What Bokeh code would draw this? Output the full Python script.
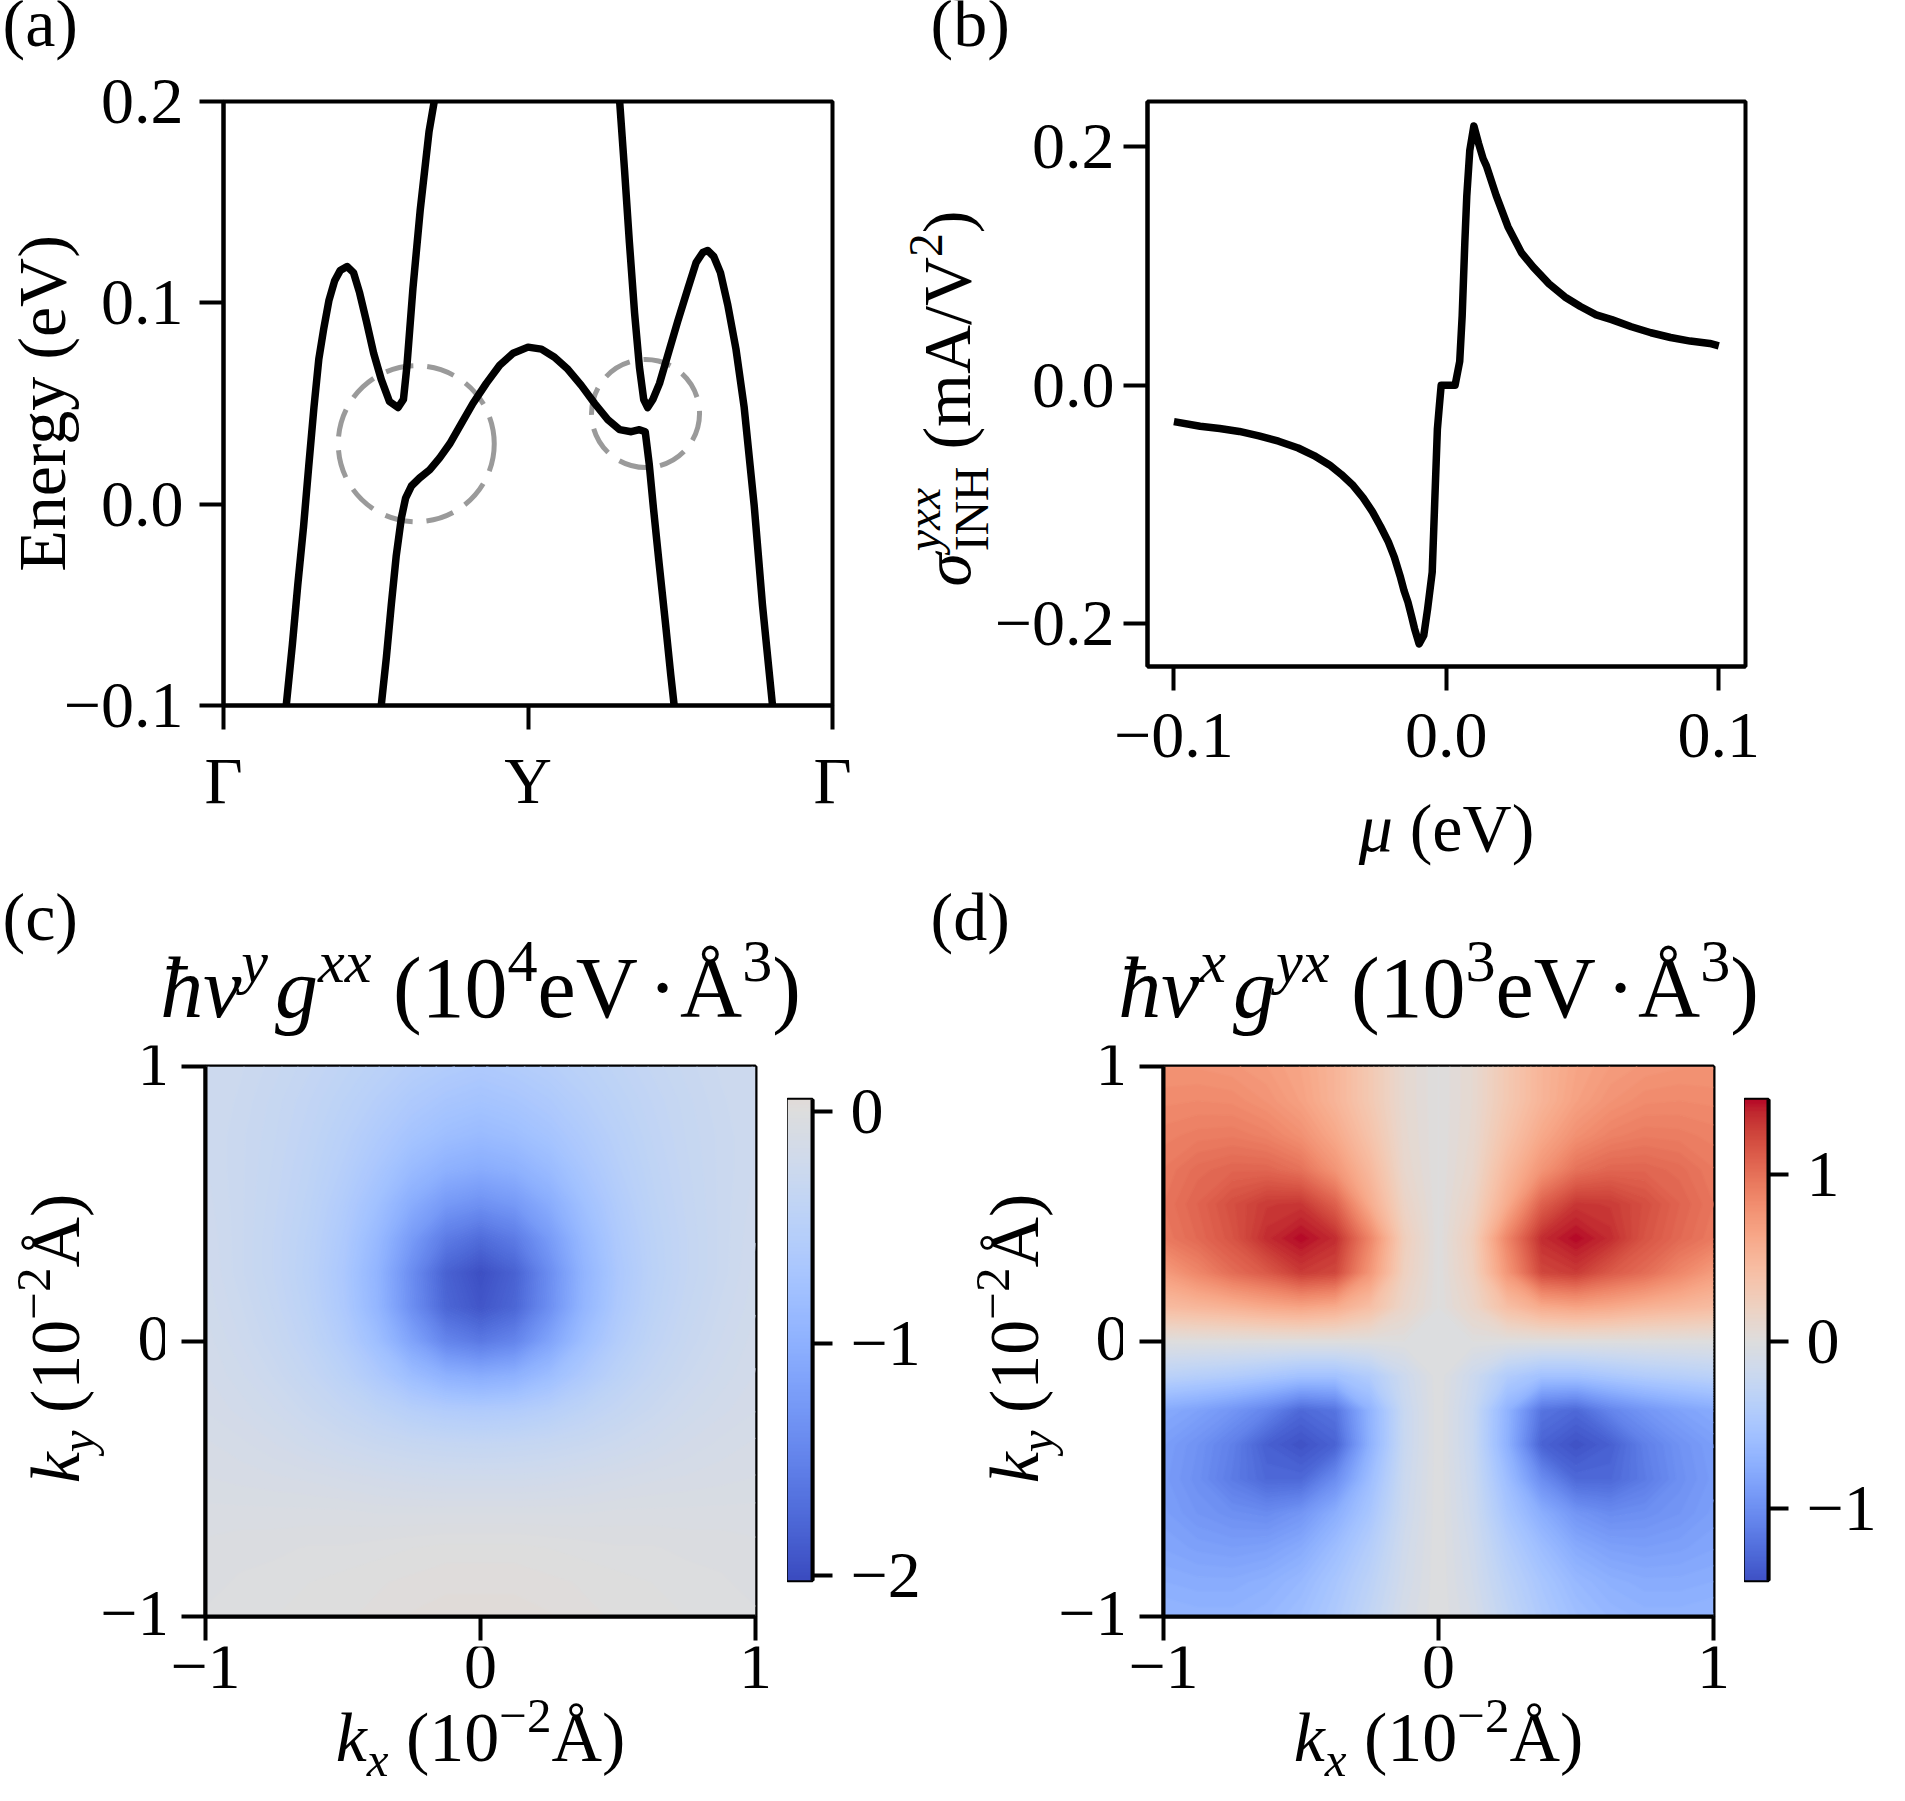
import math
import numpy as np
from bokeh.plotting import figure
from bokeh.layouts import column, row
from bokeh.models import Range1d, FixedTicker, Label, LinearColorMapper
from bokeh.embed import file_html
from bokeh.resources import INLINE

# ============================ DATA ============================
# (a) band structure along Gamma - Y - Gamma (path coordinate, energy in eV)
PATH_TICKS = [0, 1, 2]
PATH_LABELS = ["Γ", "Y", "Γ"]
E_TICKS_A = [-0.1, 0.0, 0.1, 0.2]
E_LABELS_A = ["−0.1", "0.0", "0.1", "0.2"]

BAND1_K = [0.199, 0.206, 0.226, 0.244, 0.263, 0.280, 0.297, 0.313, 0.329, 0.346, 0.365, 0.383,
           0.406, 0.427, 0.447, 0.469, 0.493, 0.518, 0.545, 0.573, 0.591, 0.602, 0.622, 0.646,
           0.675, 0.692, 0.703]
BAND1_E = [-0.110, -0.100, -0.070, -0.040, -0.011, 0.019, 0.048, 0.072, 0.087, 0.101, 0.111, 0.116,
           0.118, 0.115, 0.105, 0.091, 0.075, 0.062, 0.051, 0.048, 0.052, 0.068, 0.107, 0.146,
           0.185, 0.200, 0.215]

BAND2_K = [0.512, 0.518, 0.535, 0.551, 0.567, 0.584, 0.598, 0.617, 0.644, 0.677, 0.710, 0.743,
           0.781, 0.819, 0.863, 0.907, 0.951, 1.000, 1.044, 1.087, 1.131, 1.175, 1.219, 1.262,
           1.301, 1.339, 1.366, 1.385, 1.398, 1.412, 1.431, 1.452, 1.469, 1.480, 1.487]
BAND2_E = [-0.110, -0.100, -0.076, -0.050, -0.026, -0.007, 0.003, 0.009, 0.013, 0.017, 0.023, 0.030,
           0.040, 0.050, 0.060, 0.069, 0.075, 0.078, 0.077, 0.073, 0.067, 0.059, 0.050, 0.042,
           0.037, 0.036, 0.037, 0.036, 0.020, -0.002, -0.030, -0.060, -0.085, -0.100, -0.110]

BAND3_K = [1.295, 1.301, 1.317, 1.333, 1.350, 1.366, 1.380, 1.393, 1.410, 1.432, 1.459, 1.492,
           1.525, 1.552, 1.574, 1.590, 1.610, 1.632, 1.656, 1.683, 1.710, 1.743, 1.770, 1.803, 1.810]
BAND3_E = [0.215, 0.200, 0.166, 0.130, 0.095, 0.068, 0.052, 0.048, 0.052, 0.060, 0.074, 0.091,
           0.107, 0.120, 0.125, 0.126, 0.123, 0.115, 0.099, 0.077, 0.048, -0.001, -0.050, -0.100, -0.110]

HIGHLIGHT_K = [0.633, 1.386]
HIGHLIGHT_E = [0.030, 0.045]

# (b) sigma_INH^yxx (mA/V^2) versus mu (eV)
MU = [-0.1000, -0.0904, -0.0832, -0.0760, -0.0688, -0.0616, -0.0544, -0.0486, -0.0429, -0.0386,
      -0.0342, -0.0306, -0.0271, -0.0242, -0.0213, -0.0191, -0.0170, -0.0155, -0.0141, -0.0127,
      -0.0117, -0.0100, -0.0083, -0.0069, -0.0052, -0.0043, -0.0033, -0.0026, -0.0019, 0.0032,
      0.0049, 0.0058, 0.0068, 0.0075, 0.0086, 0.0101, 0.0118, 0.0135, 0.0147, 0.0183, 0.0226,
      0.0276, 0.0319, 0.0377, 0.0435, 0.0492, 0.0550, 0.0607, 0.0679, 0.0751, 0.0823, 0.0895,
      0.0967, 0.1000]
SIGMA = [-0.0306, -0.0344, -0.0363, -0.0388, -0.0426, -0.0470, -0.0527, -0.0590, -0.0669, -0.0748,
         -0.0842, -0.0943, -0.1063, -0.1183, -0.1315, -0.1442, -0.1599, -0.1726, -0.1820, -0.1946,
         -0.2041, -0.2170, -0.2100, -0.1880, -0.1570, -0.1000, -0.0370, -0.0180, 0.0000, 0.0000,
         0.0200, 0.0580, 0.1210, 0.1590, 0.1970, 0.2175, 0.2030, 0.1900, 0.1840, 0.1590, 0.1330,
         0.1110, 0.0990, 0.0850, 0.0740, 0.0660, 0.0590, 0.0550, 0.0490, 0.0440, 0.0400, 0.0370,
         0.0350, 0.0330]
MU_TICKS = [-0.1, 0.0, 0.1]
MU_LABELS = ["−0.1", "0.0", "0.1"]
SIGMA_TICKS = [-0.2, 0.0, 0.2]
SIGMA_LABELS = ["−0.2", "0.0", "0.2"]

# (c), (d) maps on a k grid (units 1e-2 1/Å); rows go from ky=-1 (first) to ky=+1 (last)
K_GRID = [-1.0, -0.875, -0.75, -0.625, -0.5, -0.375, -0.25, -0.125, 0.0,
          0.125, 0.25, 0.375, 0.5, 0.625, 0.75, 0.875, 1.0]
K_TICKS = [-1, 0, 1]
K_LABELS = ["−1", "0", "1"]

VG_XX = [  # hbar v^y g^xx, 1e4 eV·Å^3
    [-0.03, -0.02, -0.01, 0.00, 0.01, 0.02, 0.04, 0.05, 0.05, 0.05, 0.04, 0.02, 0.01, 0.00, -0.01, -0.02, -0.03],
    [-0.04, -0.03, -0.02, -0.01, 0.00, 0.01, 0.02, 0.03, 0.03, 0.03, 0.02, 0.01, 0.00, -0.01, -0.02, -0.03, -0.04],
    [-0.05, -0.04, -0.04, -0.03, -0.03, -0.02, -0.01, 0.00, 0.00, 0.00, -0.01, -0.02, -0.03, -0.03, -0.04, -0.04, -0.05],
    [-0.07, -0.07, -0.07, -0.07, -0.07, -0.08, -0.08, -0.08, -0.08, -0.08, -0.08, -0.08, -0.07, -0.07, -0.07, -0.07, -0.07],
    [-0.10, -0.11, -0.12, -0.13, -0.15, -0.17, -0.19, -0.20, -0.20, -0.20, -0.19, -0.17, -0.15, -0.13, -0.12, -0.11, -0.10],
    [-0.12, -0.14, -0.17, -0.21, -0.25, -0.29, -0.32, -0.34, -0.35, -0.34, -0.32, -0.29, -0.25, -0.21, -0.17, -0.14, -0.12],
    [-0.15, -0.18, -0.22, -0.28, -0.35, -0.43, -0.52, -0.58, -0.60, -0.58, -0.52, -0.43, -0.35, -0.28, -0.22, -0.18, -0.15],
    [-0.17, -0.21, -0.27, -0.35, -0.46, -0.62, -0.82, -0.99, -1.05, -0.99, -0.82, -0.62, -0.46, -0.35, -0.27, -0.21, -0.17],
    [-0.18, -0.24, -0.31, -0.41, -0.56, -0.80, -1.15, -1.48, -1.60, -1.48, -1.15, -0.80, -0.56, -0.41, -0.31, -0.24, -0.18],
    [-0.20, -0.26, -0.34, -0.45, -0.63, -0.93, -1.38, -1.78, -1.93, -1.78, -1.38, -0.93, -0.63, -0.45, -0.34, -0.26, -0.20],
    [-0.21, -0.28, -0.36, -0.47, -0.65, -0.95, -1.40, -1.82, -1.99, -1.82, -1.40, -0.95, -0.65, -0.47, -0.36, -0.28, -0.21],
    [-0.22, -0.28, -0.36, -0.46, -0.62, -0.88, -1.25, -1.58, -1.72, -1.58, -1.25, -0.88, -0.62, -0.46, -0.36, -0.28, -0.22],
    [-0.23, -0.28, -0.35, -0.44, -0.58, -0.78, -1.05, -1.27, -1.36, -1.27, -1.05, -0.78, -0.58, -0.44, -0.35, -0.28, -0.23],
    [-0.24, -0.28, -0.34, -0.42, -0.53, -0.68, -0.86, -1.00, -1.06, -1.00, -0.86, -0.68, -0.53, -0.42, -0.34, -0.28, -0.24],
    [-0.24, -0.28, -0.33, -0.40, -0.49, -0.60, -0.72, -0.81, -0.86, -0.81, -0.72, -0.60, -0.49, -0.40, -0.33, -0.28, -0.24],
    [-0.24, -0.27, -0.32, -0.38, -0.45, -0.53, -0.62, -0.69, -0.73, -0.69, -0.62, -0.53, -0.45, -0.38, -0.32, -0.27, -0.24],
    [-0.24, -0.26, -0.30, -0.35, -0.41, -0.47, -0.53, -0.58, -0.62, -0.58, -0.53, -0.47, -0.41, -0.35, -0.30, -0.26, -0.24],
]

VG_YX = [  # hbar v^x g^yx, 1e3 eV·Å^3
    [-0.68, -0.70, -0.70, -0.66, -0.58, -0.45, -0.28, -0.10, 0.00, -0.10, -0.28, -0.45, -0.58, -0.66, -0.70, -0.70, -0.68],
    [-0.75, -0.77, -0.77, -0.73, -0.65, -0.50, -0.33, -0.13, 0.00, -0.13, -0.33, -0.50, -0.65, -0.73, -0.77, -0.77, -0.75],
    [-0.82, -0.86, -0.88, -0.86, -0.78, -0.60, -0.40, -0.15, 0.00, -0.15, -0.40, -0.60, -0.78, -0.86, -0.88, -0.86, -0.82],
    [-0.87, -0.95, -1.00, -1.03, -0.95, -0.75, -0.50, -0.18, 0.00, -0.18, -0.50, -0.75, -0.95, -1.03, -1.00, -0.95, -0.87],
    [-0.90, -1.00, -1.15, -1.28, -1.28, -1.02, -0.60, -0.20, 0.00, -0.20, -0.60, -1.02, -1.28, -1.28, -1.15, -1.00, -0.90],
    [-0.88, -0.98, -1.12, -1.34, -1.43, -1.32, -0.72, -0.22, 0.00, -0.22, -0.72, -1.32, -1.43, -1.34, -1.12, -0.98, -0.88],
    [-0.78, -0.85, -0.95, -1.08, -1.28, -1.20, -0.70, -0.22, 0.00, -0.22, -0.70, -1.20, -1.28, -1.08, -0.95, -0.85, -0.78],
    [-0.34, -0.38, -0.42, -0.48, -0.55, -0.55, -0.42, -0.18, 0.00, -0.18, -0.42, -0.55, -0.55, -0.48, -0.42, -0.38, -0.34],
    [0.00, 0.00, 0.00, 0.00, 0.00, 0.00, 0.00, 0.00, 0.00, 0.00, 0.00, 0.00, 0.00, 0.00, 0.00, 0.00, 0.00],
    [0.45, 0.50, 0.55, 0.62, 0.66, 0.60, 0.42, 0.15, 0.00, 0.15, 0.42, 0.60, 0.66, 0.62, 0.55, 0.50, 0.45],
    [0.72, 0.87, 1.03, 1.14, 1.30, 1.24, 0.76, 0.22, 0.00, 0.22, 0.76, 1.24, 1.30, 1.14, 1.03, 0.87, 0.72],
    [0.95, 1.05, 1.17, 1.36, 1.46, 1.36, 0.88, 0.25, 0.00, 0.25, 0.88, 1.36, 1.46, 1.36, 1.17, 1.05, 0.95],
    [0.98, 1.08, 1.20, 1.30, 1.32, 1.10, 0.60, 0.18, 0.00, 0.18, 0.60, 1.10, 1.32, 1.30, 1.20, 1.08, 0.98],
    [0.95, 1.03, 1.07, 1.07, 1.00, 0.77, 0.48, 0.13, 0.00, 0.13, 0.48, 0.77, 1.00, 1.07, 1.07, 1.03, 0.95],
    [0.90, 0.93, 0.94, 0.90, 0.80, 0.62, 0.38, 0.11, 0.00, 0.11, 0.38, 0.62, 0.80, 0.90, 0.94, 0.93, 0.90],
    [0.84, 0.85, 0.84, 0.78, 0.68, 0.52, 0.32, 0.10, 0.00, 0.10, 0.32, 0.52, 0.68, 0.78, 0.84, 0.85, 0.84],
    [0.78, 0.78, 0.76, 0.72, 0.65, 0.52, 0.32, 0.10, 0.00, 0.10, 0.32, 0.52, 0.65, 0.72, 0.76, 0.78, 0.78],
]

CB_C_RANGE = (-2.02, 0.05)
CB_C_TICKS = [-2, -1, 0]
CB_C_LABELS = ["−2", "−1", "0"]
CB_D_RANGE = (-1.43, 1.45)
CB_D_TICKS = [-1, 0, 1]
CB_D_LABELS = ["−1", "0", "1"]

# ============================ STYLE ============================
FONT = "Liberation Serif"
TICK_FS = 66
LABEL_FS = 68
KLABEL_FS = 70
TITLE_FS = 86
LW = 7.5
SPINE = 4
TICK_LEN = 24
BASE_FIX = 0.39   # renderer places the alphabetic baseline this many em too low

CW = [(59, 76, 192), (68, 90, 204), (77, 104, 215), (87, 117, 225), (98, 130, 234), (108, 142, 241),
      (119, 154, 247), (130, 165, 251), (141, 176, 254), (152, 185, 255), (163, 194, 255),
      (174, 201, 253), (184, 208, 249), (194, 213, 244), (204, 217, 238), (213, 219, 230),
      (221, 221, 221), (229, 216, 209), (236, 211, 197), (241, 204, 184), (245, 196, 172),
      (247, 187, 160), (247, 177, 148), (247, 166, 135), (244, 154, 123), (241, 141, 111),
      (236, 127, 99), (229, 112, 88), (222, 96, 77), (213, 80, 66), (203, 62, 56), (192, 40, 47),
      (180, 4, 38)]


def coolwarm(t):
    t = min(max(t, 0.0), 1.0) * 32
    i = min(int(t), 31)
    f = t - i
    c = [int(round(CW[i][k] * (1 - f) + CW[i + 1][k] * f)) for k in range(3)]
    return "#%02x%02x%02x" % tuple(c)


PALETTE = [coolwarm(i / 255) for i in range(256)]

W_REG = {'.': 0.25, ' ': 0.25, '(': 0.333, ')': 0.333, '/': 0.278, 'A': 0.722, 'V': 0.722,
         'E': 0.611, 'I': 0.333, 'N': 0.722, 'H': 0.722, 'Å': 0.722, 'e': 0.444, 'n': 0.5,
         'r': 0.333, 'g': 0.5, 'y': 0.5, 'm': 0.778, '−': 0.564, '·': 0.25, 'Γ': 0.578,
         'Y': 0.722, 'a': 0.444, 'b': 0.5, 'c': 0.444, 'd': 0.5}
W_IT = {'x': 0.444, 'y': 0.444, 'k': 0.444, 'v': 0.444, 'g': 0.5, 'σ': 0.52, 'μ': 0.5, 'ħ': 0.5}


def text_w(s, italic):
    tbl = W_IT if italic else W_REG
    return sum(tbl.get(ch, W_REG.get(ch, 0.5)) for ch in s)


def rich(p, conv, runs, X, Y, size, align="center", rotate=False):
    """Place a run of text pieces (normal / super / subscript) with baseline at page point X, Y."""
    items = []
    adv = 0.0
    for r in runs:
        kind = r[0]
        if kind == "gap":
            adv += r[1] * size
            continue
        if kind == "stack":
            _, sup_t, sup_i, sub_t, sub_i = r
            fs = size * 0.7
            items.append((sup_t, sup_i, fs, adv, 0.45 * size))
            items.append((sub_t, sub_i, fs, adv, -0.25 * size))
            adv += max(text_w(sup_t, sup_i), text_w(sub_t, sub_i)) * fs
            continue
        _, t, it = r
        if kind == "n":
            fs, rise = size, 0.0
        elif kind == "sup":
            fs, rise = size * 0.7, 0.42 * size
        else:
            fs, rise = size * 0.7, -0.2 * size
        lead = len(t) - len(t.lstrip(" "))
        adv += lead * 0.25 * fs
        t = t.lstrip(" ")
        items.append((t, it, fs, adv, rise))
        adv += text_w(t, it) * fs
    off = -adv / 2 if align == "center" else 0.0
    for t, it, fs, a, rise in items:
        up = rise + BASE_FIX * fs
        if rotate:
            px, py = X - up, Y - (off + a)
        else:
            px, py = X + off + a, Y - up
        dx, dy = conv(px, py)
        p.add_layout(Label(x=dx, y=dy, text=t, angle=(math.pi / 2 if rotate else 0.0),
                           text_font=FONT, text_font_size=f"{fs:.1f}px",
                           text_font_style=("italic" if it else "normal"),
                           text_align="left", text_baseline="alphabetic", text_color="black"))


def strip(x0, y0, w, h, xr=None, yr=None):
    """A text-only canvas whose frame is the whole canvas (page box x0,y0,w,h)."""
    if xr is None:
        xr = (0, w)
    if yr is None:
        yr = (0, h)
    p = figure(width=w, height=h, x_range=Range1d(*xr), y_range=Range1d(*yr), min_border=0,
               x_axis_type=None, y_axis_type=None, title=None, toolbar_location=None,
               output_backend="svg", frame_align=False)
    p.outline_line_color = None
    p.background_fill_color = "white"
    p.border_fill_color = "white"

    def conv(X, Y):
        return (xr[0] + (X - x0) / w * (xr[1] - xr[0]), yr[1] - (Y - y0) / h * (yr[1] - yr[0]))
    return p, conv


def make_fig(FL, FT, FW, FH, CL, CT, CW_, CH, xr, yr, **kw):
    p = figure(frame_width=FW, frame_height=FH,
               min_border_left=FL - CL, min_border_top=FT - CT,
               min_border_right=CL + CW_ - (FL + FW), min_border_bottom=CT + CH - (FT + FH),
               x_range=Range1d(*xr), y_range=Range1d(*yr), title=None,
               toolbar_location=None, output_backend="svg", frame_align=False, **kw)
    p.outline_line_color = "black"
    p.outline_line_width = SPINE
    p.background_fill_color = "white"
    p.border_fill_color = "white"
    for g in p.grid:
        g.visible = False
    for ax in p.axis:
        ax.axis_line_width = SPINE
        ax.axis_line_color = "black"
        ax.major_tick_line_width = SPINE
        ax.major_tick_line_color = "black"
        ax.major_tick_out = TICK_LEN
        ax.major_tick_in = 0
        ax.minor_tick_line_color = None
        ax.major_label_text_font = FONT
        ax.major_label_text_font_size = f"{TICK_FS}px"
        ax.major_label_text_color = "black"
        ax.major_label_standoff = 9
    return p


def set_ticks(ax, ticks, labels):
    ax.ticker = FixedTicker(ticks=list(ticks))
    ax.major_label_overrides = {float(t): l for t, l in zip(ticks, labels)}


def hide_labels(ax):
    ax.major_label_text_font_size = "1px"
    ax.major_label_text_color = None
    ax.major_label_standoff = 0


# ============================ row 1 ============================
t1, c_t1 = strip(0, 0, 1905, 66)
rich(t1, c_t1, [("n", "(a)", False)], 2, 49, LABEL_FS, align="left")
rich(t1, c_t1, [("n", "(b)", False)], 930, 49, LABEL_FS, align="left")

# (a)
pa = make_fig(222, 101, 609, 604, 0, 66, 860, 824, (0, 2), (-0.1, 0.2))
set_ticks(pa.xaxis[0], PATH_TICKS, PATH_LABELS)
set_ticks(pa.yaxis[0], E_TICKS_A, E_LABELS_A)
pa.yaxis[0].major_label_standoff = 16
pa.xaxis[0].major_label_standoff = 14
pa.yaxis[0].axis_label = "Energy (eV)"
pa.yaxis[0].axis_label_text_font = FONT
pa.yaxis[0].axis_label_text_font_size = f"{LABEL_FS}px"
pa.yaxis[0].axis_label_text_font_style = "normal"
pa.yaxis[0].axis_label_text_color = "black"
pa.yaxis[0].axis_label_standoff = -19
pa.circle(x=HIGHLIGHT_K, y=HIGHLIGHT_E, radius=[78, 54], radius_units="screen",
          fill_color=None, line_color="#9a9a9a", line_width=5, line_dash="28 14")
for bk, be in [(BAND1_K, BAND1_E), (BAND2_K, BAND2_E), (BAND3_K, BAND3_E)]:
    pa.line(bk, be, line_color="black", line_width=LW, line_join="round")

# (b) y label strip
sb, c_sb = strip(860, 66, 130, 824)
rich(sb, c_sb, [("n", "σ", True), ("stack", "yxx", True, "INH", False), ("n", " (mA/V", False),
                ("sup", "2", False), ("n", ")", False)], 972, 398, LABEL_FS, rotate=True)

# (b)
pb = make_fig(1146, 101, 598, 565, 990, 66, 915, 719, (-0.1097, 0.1098), (-0.236, 0.238))
set_ticks(pb.xaxis[0], MU_TICKS, MU_LABELS)
set_ticks(pb.yaxis[0], SIGMA_TICKS, SIGMA_LABELS)
pb.xaxis[0].major_label_standoff = 23
pb.line(MU, SIGMA, line_color="black", line_width=LW, line_join="round")
bb, c_bb = strip(990, 785, 915, 105)
rich(bb, c_bb, [("n", "μ", True), ("n", " (eV)", False)], 1445, 854, LABEL_FS)

row1 = row(pa, sb, column(pb, bb))

# ============================ header of row 2 ============================
t2, c_t2 = strip(0, 890, 1905, 155)
rich(t2, c_t2, [("n", "(c)", False)], 2, 943, LABEL_FS, align="left")
rich(t2, c_t2, [("n", "(d)", False)], 930, 943, LABEL_FS, align="left")
TITLE_C = [("n", "ħ", True), ("n", "v", True), ("sup", "y", True), ("gap", 0.08), ("n", "g", True),
           ("sup", "xx", True), ("n", " (10", False), ("sup", "4", False), ("n", "eV", False),
           ("gap", 0.12), ("n", "·", False), ("gap", 0.12), ("n", "Å", False), ("sup", "3", False),
           ("n", ")", False)]
TITLE_D = [("n", "ħ", True), ("n", "v", True), ("sup", "x", True), ("gap", 0.08), ("n", "g", True),
           ("sup", "yx", True), ("n", " (10", False), ("sup", "3", False), ("n", "eV", False),
           ("gap", 0.12), ("n", "·", False), ("gap", 0.12), ("n", "Å", False), ("sup", "3", False),
           ("n", ")", False)]
rich(t2, c_t2, TITLE_C, 480, 1021, TITLE_FS)
rich(t2, c_t2, TITLE_D, 1438, 1021, TITLE_FS)

# ============================ row 2 ============================
KY_RUNS = [("n", "k", True), ("sub", "y", True), ("n", " (10", False), ("sup", "−2", False), ("n", "Å)", False)]
KX_RUNS = [("n", "k", True), ("sub", "x", True), ("n", " (10", False), ("sup", "−2", False), ("n", "Å)", False)]
ROW2_TOP = 1045
ROW2_H = 750
MAP_TOP = 1066
MAP_SIZE = 550
MAP_CANVAS_H = 601
PER = MAP_SIZE / 2.0     # px per k unit


def left_strip(x0, w, FL, ylabel_x):
    """ky label + y tick labels, on the map's own y scale."""
    yr = (-1 - (ROW2_TOP + ROW2_H - MAP_TOP - MAP_SIZE) / PER, 1 + (MAP_TOP - ROW2_TOP) / PER)
    s, cv = strip(x0, ROW2_TOP, w, ROW2_H, yr=yr)
    right = FL - TICK_LEN - 11
    for t, lab in zip(K_TICKS, K_LABELS):
        s.add_layout(Label(x=right - x0, y=t + (BASE_FIX - 0.34) * TICK_FS / PER, text=lab,
                           text_align="right", text_baseline="alphabetic", text_font=FONT,
                           text_font_size=f"{TICK_FS}px", text_color="black"))
    rich(s, cv, KY_RUNS, ylabel_x, 1338, KLABEL_FS, rotate=True)
    return s


def heat_block(x0, FL, w, Z, vmax, lo, hi):
    p = make_fig(FL, MAP_TOP, MAP_SIZE, MAP_SIZE, x0, ROW2_TOP, w, MAP_CANVAS_H, (-1, 1), (-1, 1))
    set_ticks(p.xaxis[0], K_TICKS, K_LABELS)
    set_ticks(p.yaxis[0], K_TICKS, K_LABELS)
    hide_labels(p.xaxis[0])
    hide_labels(p.yaxis[0])
    p.background_fill_color = "#dddddd"
    nb = 90
    levels = [lo + (hi - lo) * i / nb for i in range(nb + 1)]
    cols = [coolwarm(((levels[i] + levels[i + 1]) / 2 + vmax) / (2 * vmax)) for i in range(nb)]
    lcols = [coolwarm((lv + vmax) / (2 * vmax)) for lv in levels]
    p.contour(x=np.array(K_GRID), y=np.array(K_GRID), z=np.array(Z), levels=levels,
              fill_color=cols, line_color=lcols, line_width=1.5)
    # x tick labels + x label below the map, on the map's own x scale
    bh = ROW2_H - MAP_CANVAS_H
    btop = ROW2_TOP + MAP_CANVAS_H
    xr = (-1 - (FL - x0) / PER, 1 + (x0 + w - FL - MAP_SIZE) / PER)
    b, cbk = strip(x0, btop, w, bh, xr=xr)
    for t, lab in zip(K_TICKS, K_LABELS):
        b.add_layout(Label(x=t, y=bh - (1692 - btop) + BASE_FIX * TICK_FS, text=lab,
                           text_align="center", text_baseline="alphabetic", text_font=FONT,
                           text_font_size=f"{TICK_FS}px", text_color="black"))
    rich(b, cbk, KX_RUNS, FL + MAP_SIZE / 2, 1764, KLABEL_FS)
    return column(p, b)


def colorbar_fig(FL, CL, CWd, FW, rng, vmax, ticks, labels):
    p = make_fig(FL, 1099, FW, 481, CL, ROW2_TOP, CWd, ROW2_H, (0, 1), rng,
                 x_axis_type=None, y_axis_location="right")
    set_ticks(p.yaxis[0], ticks, labels)
    p.yaxis[0].major_tick_out = 20
    p.yaxis[0].major_label_standoff = 18
    mapper = LinearColorMapper(palette=PALETTE, low=-vmax, high=vmax)
    ramp = np.linspace(rng[0], rng[1], 400).reshape(-1, 1)
    p.image(image=[ramp], x=0, y=rng[0], dw=1, dh=rng[1] - rng[0], color_mapper=mapper)
    p.outline_line_width = 3.5
    return p


lc = left_strip(0, 165, 205, 82)
blk_c = heat_block(165, 205, 622, VG_XX, 2.02, -2.03, 0.06)
cbc = colorbar_fig(787, 787, 173, 25, CB_C_RANGE, 2.02, CB_C_TICKS, CB_C_LABELS)
ld = left_strip(960, 163, 1163, 1041)
blk_d = heat_block(1123, 1163, 621, VG_YX, 1.47, -1.47, 1.47)
cbd = colorbar_fig(1744, 1744, 161, 24, CB_D_RANGE, 1.47, CB_D_TICKS, CB_D_LABELS)

row2 = row(lc, blk_c, cbc, ld, blk_d, cbd)

layout = column(t1, row1, t2, row2)
open("out.html", "w").write(file_html(layout, INLINE))
